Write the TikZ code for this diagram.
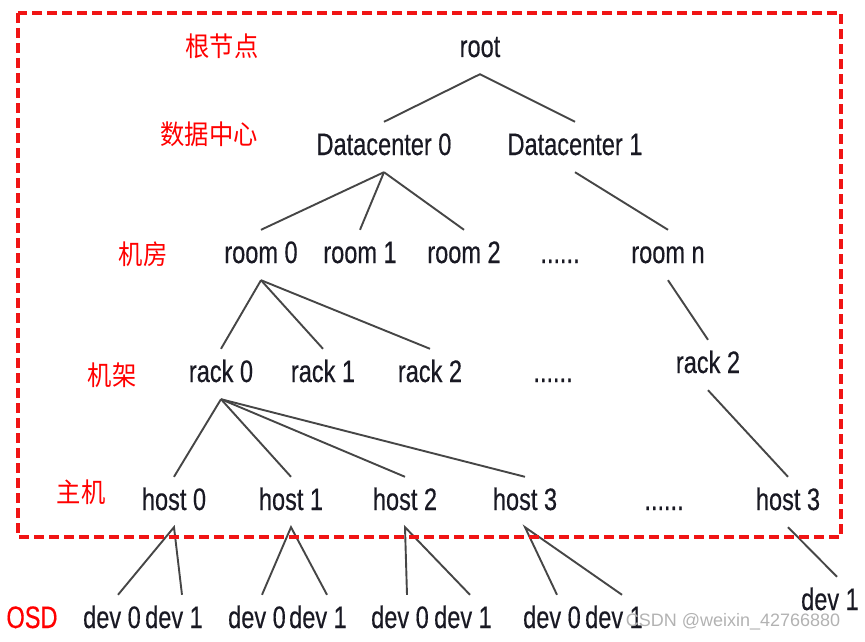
\documentclass[tikz,border=0pt]{standalone}
\usepackage{fontspec}
\usetikzlibrary{calc}
\newfontfamily\labf[FakeStretch=0.76,FakeBold=0.4]{Liberation Sans}
\newfontfamily\cjkf[FakeStretch=0.9]{Noto Sans CJK SC}
\newfontfamily\wmf{Liberation Sans}
\definecolor{txt}{RGB}{25,25,35}
\definecolor{edge}{RGB}{70,70,70}
\definecolor{boxred}{RGB}{240,20,20}
\tikzset{
  lab/.style={font=\labf\fontsize{31}{31}\selectfont, text=txt, anchor=base,
    text height=22pt, text depth=6pt, inner xsep=0pt, inner ysep=11pt},
  lvl/.style={font=\cjkf\fontsize{27}{27}\selectfont, text=red, inner sep=0pt},
  osdlab/.style={font=\labf\fontsize{31}{31}\selectfont, text=red, anchor=base, inner sep=0pt},
  conn/.style={draw=edge, line width=1.9pt},
  region/.style={draw=boxred, line width=3.2pt, dash pattern=on 10pt off 5pt},
}
\begin{document}
\begin{tikzpicture}[x=1pt,y=-1pt]
\useasboundingbox (0,0) rectangle (865,642);

% level labels
\node[lvl] (l1) at (222,46) {根节点};
\node[lvl] (l2) at (209,134) {数据中心};
\node[lvl] (l3) at (143,254) {机房};
\node[lvl] (l4) at (112,375) {机架};
\node[lvl] (l5) at (81,492) {主机};
\node[osdlab] (l6) at (32,628) {OSD};

% tree nodes
\node[lab] (root) at (480,57) {root};
\node[lab] (dc0) at (384,155) {Datacenter 0};
\node[lab] (dc1) at (575,155) {Datacenter 1};
\node[lab] (room0) at (261,263) {room 0};
\node[lab] (room1) at (360,263) {room 1};
\node[lab] (room2) at (464,263) {room 2};
\node[lab] (dots1) at (560,263) {......};
\node[lab] (roomn) at (668,263) {room n};
\node[lab] (rack0) at (221,382) {rack 0};
\node[lab] (rack1) at (323,382) {rack 1};
\node[lab] (rack2) at (430,382) {rack 2};
\node[lab] (dots2) at (553,382) {......};
\node[lab] (rackR) at (708,373) {rack 2};
\node[lab] (host0) at (174,510) {host 0};
\node[lab] (host1) at (291,510) {host 1};
\node[lab] (host2) at (405,510) {host 2};
\node[lab] (host3) at (525,510) {host 3};
\node[lab] (dots3) at (664,510) {......};
\node[lab] (hostR) at (788,510) {host 3};
\node[lab] (d00) at (112,628) {dev 0};
\node[lab] (d01) at (174,628) {dev 1};
\node[lab] (d10) at (257,628) {dev 0};
\node[lab] (d11) at (318,628) {dev 1};
\node[lab] (d20) at (400,628) {dev 0};
\node[lab] (d21) at (463,628) {dev 1};
\node[lab] (d30) at (552,628) {dev 0};
\node[lab] (d31) at (614,628) {dev 1};
\node[lab] (dR) at (830,610) {dev 1};

% connectors
\draw[conn] (dc0.north) -- (root.south) -- (dc1.north);
\draw[conn] (dc0.south) -- (room0.north);
\draw[conn] (dc0.south) -- (room1.north);
\draw[conn] (dc0.south) -- (room2.north);
\draw[conn] (dc1.south) -- (roomn.north);
\draw[conn] (room0.south) -- (rack0.north);
\draw[conn] (room0.south) -- (rack1.north);
\draw[conn] (room0.south) -- (rack2.north);
\draw[conn] (roomn.south) -- (rackR.north);
\draw[conn] (rack0.south) -- (host0.north);
\draw[conn] (rack0.south) -- (host1.north);
\draw[conn] (rack0.south) -- (host2.north);
\draw[conn] (rack0.south) -- (host3.north);
\draw[conn] (rackR.south) -- (hostR.north);
\draw[conn] ($(d00.north)+(6,0)$) -- (host0.south) -- ($(d01.north)+(8,0)$);
\draw[conn] ($(d10.north)+(5,0)$) -- (host1.south) -- ($(d11.north)+(9,0)$);
\draw[conn] ($(d20.north)+(7,0)$) -- (host2.south) -- ($(d21.north)+(7,0)$);
\draw[conn] ($(d30.north)+(5,0)$) -- (host3.south) -- ($(d31.north)+(8,0)$);
\draw[conn] (hostR.south) -- ($(dR.north)+(7,0)$);

% dashed region
\draw[region] (18,13) rectangle (841,537);

% watermark
\node[font=\wmf\fontsize{18}{18}\selectfont, text=gray!60, inner sep=0pt] (wm) at (733,622) {CSDN @weixin\_42766880};
\end{tikzpicture}
\end{document}
